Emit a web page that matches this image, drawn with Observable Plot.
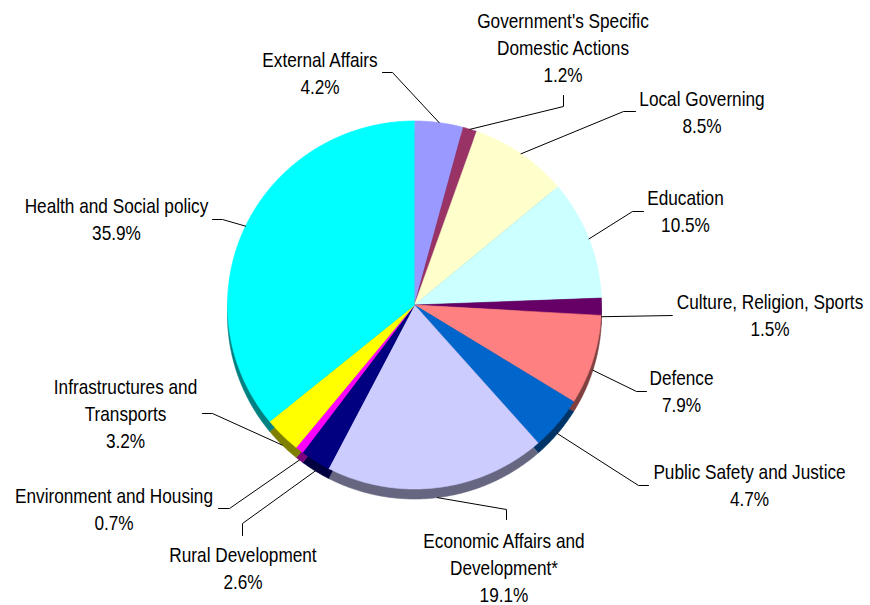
<!DOCTYPE html>
<html>
<head>
<meta charset="utf-8">
<script src="https://cdn.jsdelivr.net/npm/d3@7"></script>
<script src="https://cdn.jsdelivr.net/npm/@observablehq/plot@0.6"></script>
<style>
  html, body { margin: 0; padding: 0; background: #ffffff; }
  #chart svg { display: block; }
</style>
</head>
<body>
<div id="chart"></div>
<script>
// ---------- data ----------
const categories = [
  "External Affairs",
  "Government's Specific\nDomestic Actions",
  "Local Governing",
  "Education",
  "Culture, Religion, Sports",
  "Defence",
  "Public Safety and Justice",
  "Economic Affairs and\nDevelopment*",
  "Rural Development",
  "Environment and Housing",
  "Infrastructures and\nTransports",
  "Health and Social policy"
];
const shares = [4.2, 1.2, 8.5, 10.5, 1.5, 7.9, 4.7, 19.1, 2.6, 0.7, 3.2, 35.9];

// ---------- styles ----------
const topColors = ["#9999FF", "#993366", "#FFFFCC", "#CCFFFF", "#660066", "#FF8080",
                   "#0066CC", "#CCCCFF", "#000080", "#FF00FF", "#FFFF00", "#00FFFF"];
const sideColors = ["#4C4C80", "#4C1933", "#808066", "#668080", "#330033", "#804040",
                    "#003366", "#666680", "#000040", "#800080", "#808000", "#008080"];

// ---------- layout ----------
const W = 870, H = 605;
const cx = 414, cy = 304.5, rx = 187, ry = 184, depth = 10;
const fontSize = 21, lineGap = 27, narrow = 0.82;
// label centre x and first baseline y
const labelPos = [
  [319.5, 66], [562.5, 27], [701.5, 105], [685, 204], [769.5, 308], [681, 384],
  [749, 478], [503.5, 547], [242.5, 561], [113.5, 502], [125, 393], [116, 212]
];
// leader line: start near the label, elbow
const leaderPts = [
  [[382, 72], [392, 72]],
  [[563, 95], [563, 106]],
  [[635, 111], [623, 111]],
  [[643, 211], [632, 211]],
  [[672, 315], [672, 315]],
  [[646, 391], [636, 391]],
  [[648, 485], [638, 485]],
  [[506, 519], [506, 509]],
  [[242, 535], [242, 523]],
  [[218, 508], [229, 508]],
  [[202, 413], [212, 413]],
  [[212, 219], [222, 219]]
];

// ---------- geometry ----------
const arcs = d3.pie().sort(null).value(d => d)(shares);
function wedge(a0, a1, dy) {
  const pts = [{x: cx, y: cy + dy}];
  const n = Math.max(2, Math.ceil((a1 - a0) / (Math.PI / 360)));
  for (let k = 0; k <= n; k++) {
    const a = a0 + (a1 - a0) * k / n;
    pts.push({x: cx + rx * Math.sin(a), y: cy + dy - ry * Math.cos(a)});
  }
  return pts;
}

const sideMarks = arcs.map((a, i) =>
  Plot.line(wedge(a.startAngle, a.endAngle, depth), {
    x: "x", y: "y", fill: sideColors[i], stroke: sideColors[i], strokeWidth: 0.6, curve: "linear"
  }));
const topMarks = arcs.map((a, i) =>
  Plot.line(wedge(a.startAngle, a.endAngle, 0), {
    x: "x", y: "y", fill: topColors[i], stroke: topColors[i], strokeWidth: 0.6, curve: "linear"
  }));

const leaders = [];
arcs.forEach((a, i) => {
  const mid = (a.startAngle + a.endAngle) / 2;
  const c = Math.cos(mid);
  const end = {x: cx + rx * Math.sin(mid), y: cy - ry * c + (c < 0 ? depth : 0)};
  const [s, e] = leaderPts[i];
  leaders.push({i, x: s[0], y: s[1]}, {i, x: e[0], y: e[1]}, {i, x: end.x, y: end.y});
});

const textRows = [];
categories.forEach((name, i) => {
  const lines = name.split("\n").concat([shares[i].toFixed(1) + "%"]);
  lines.forEach((t, k) => textRows.push({x: labelPos[i][0], y: labelPos[i][1] + k * lineGap, t}));
});

const chart = Plot.plot({
  width: W,
  height: H,
  margin: 0,
  x: {domain: [0, W], range: [0, W], axis: null},
  y: {domain: [0, H], range: [0, H], axis: null},
  style: {background: "#ffffff"},
  marks: [
    ...sideMarks,
    ...topMarks,
    Plot.line(leaders, {x: "x", y: "y", z: "i", stroke: "#000000", strokeWidth: 1, curve: "linear"}),
    Plot.text(textRows, {
      x: "x", y: "y", text: "t",
      lineAnchor: "bottom", textAnchor: "middle",
      fontSize: fontSize,
      fontFamily: "'Liberation Sans', Arial, sans-serif",
      fill: "#000000",
      className: "lbl"
    })
  ]
});
// condense the label glyphs horizontally (Arial Narrow look) around each anchor
chart.querySelectorAll("text").forEach(t => {
  const tr = t.getAttribute("transform") || "";
  t.setAttribute("transform", tr + ` scale(${narrow},1)`);
});
document.getElementById("chart").appendChild(chart);
</script>
</body>
</html>
